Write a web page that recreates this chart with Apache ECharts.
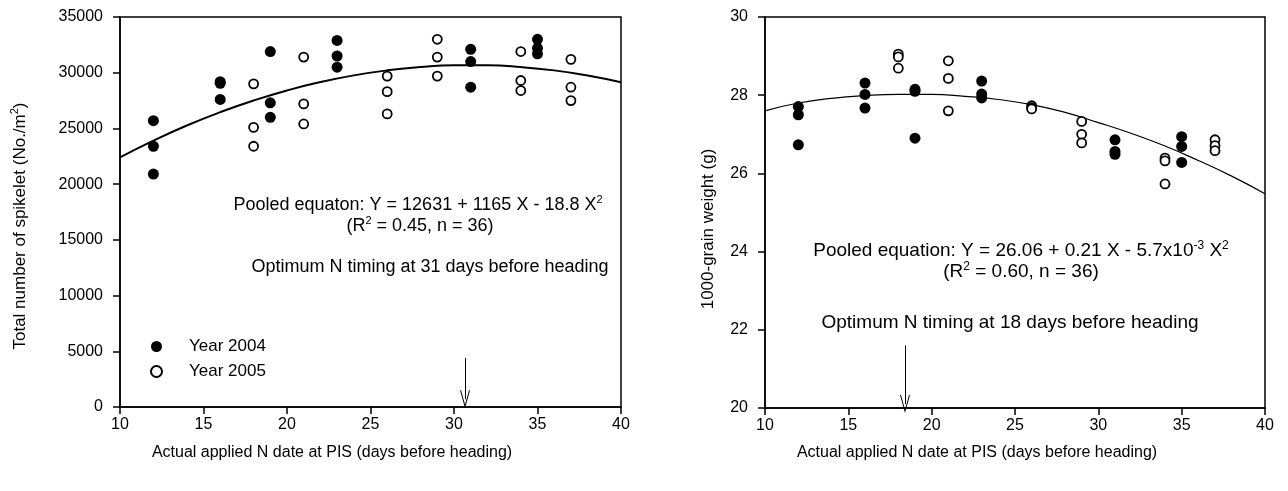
<!DOCTYPE html>
<html>
<head>
  <meta charset="utf-8">
  <title>Spikelet and grain weight vs N timing</title>
  <script src="https://cdn.jsdelivr.net/npm/echarts@6/dist/echarts.min.js"></script>
  <style>
    html, body { margin: 0; padding: 0; background: #fff; }
    #chart { width: 1288px; height: 491px; }
  </style>
</head>
<body>
<div id="chart"></div>
<script>
  // days before heading at which N was applied
  const days2004 = [12, 16, 19, 23, 31, 35];
  const days2005 = [18, 21, 26, 29, 34, 37];

  // total spikelet number (No./m2), three replicates per date
  const spikelet2004 = [[25700, 23400, 20900], [29200, 29050, 27600], [31900, 27300, 26000],
    [32900, 31500, 30500], [32100, 31000, 28700], [33000, 32200, 31700]];
  const spikelet2005 = [[29000, 25100, 23400], [31400, 27200, 25400], [29700, 28300, 26300],
    [33000, 31400, 29700], [31900, 29300, 28400], [31200, 28700, 27500]];

  // 1000-grain weight (g)
  const weight2004 = [[27.71, 27.50, 26.73], [28.31, 28.02, 27.67], [28.15, 28.10, 26.90],
    [28.36, 28.03, 27.93], [26.86, 26.56, 26.49], [26.94, 26.69, 26.28]];
  const weight2005 = [[29.05, 28.98, 28.69], [28.88, 28.43, 27.60], [27.73, 27.68, 27.65],
    [27.33, 27.00, 26.78], [26.39, 26.32, 25.73], [26.86, 26.71, 26.58]];

  // pooled regression curves
  const fitDays = [10, 12, 14, 16, 18, 20, 22, 24, 26, 28, 30, 32, 34, 36, 38, 40];
  const spikeletFit = [22400, 23900, 25260, 26460, 27510, 28410, 29160, 29760, 30210, 30510,
    30660, 30660, 30510, 30210, 29750, 29150];
  const weightFit = [27.60, 27.80, 27.92, 27.99, 28.02, 28.02, 27.97, 27.89, 27.76, 27.56,
    27.30, 27.02, 26.70, 26.33, 25.93, 25.48];

  // optimum timing arrows: [day, from, to]
  const spikeletArrow = [30.66, 4400, 700];
  const weightArrow = [18.4, 21.6, 20.1];

  const FONT = "'Liberation Sans', Arial, sans-serif";

  function pairs(daysArr, vals) {
    const out = [];
    daysArr.forEach(function (d, i) {
      vals[i].forEach(function (v) { out.push([d, v]); });
    });
    return out;
  }

  function axis(extra, margin) {
    return Object.assign({
      type: 'value',
      axisLine: { onZero: false, lineStyle: { color: '#000', width: 1.5 } },
      axisTick: { inside: false, length: 7, lineStyle: { color: '#000', width: 1.5 } },
      axisLabel: { color: '#000', fontSize: 16, fontFamily: FONT, margin: margin,
        formatter: function (v) { return String(v); } },
      splitLine: { show: false }
    }, extra);
  }

  const filled = { color: '#000', opacity: 1 };
  const hollow = { color: '#fff', borderColor: '#000', borderWidth: 1.8, opacity: 1 };
  const arrowSymbol = 'path://M0,10 L5,0 L10,10 L9,10 L5,2 L1,10 Z';

  function arrowLine(a) {
    return {
      silent: true,
      symbol: ['none', arrowSymbol],
      symbolSize: [10, 18],
      label: { show: false },
      lineStyle: { color: '#000', width: 1, type: 'solid' },
      data: [[{ coord: [a[0], a[1]] }, { coord: [a[0], a[2]] }]]
    };
  }

  function txt(x, y, text, size, rot) {
    return {
      type: 'text', x: x, y: y, rotation: rot || 0,
      style: {
        text: text,
        rich: {
          sup: { fontSize: Math.round(size * 0.62), fontFamily: FONT, color: '#000',
            padding: [0, 0, Math.round(size * 0.6), 0] }
        },
        fill: '#000', font: size + 'px ' + FONT,
        textAlign: 'center', textVerticalAlign: 'middle'
      }
    };
  }

  const chart = echarts.init(document.getElementById('chart'));
  chart.setOption({
    animation: false,
    grid: [
      { left: 120, right: 667, top: 17, bottom: 84, show: true, borderColor: '#000', borderWidth: 1.5 },
      { left: 765, right: 23, top: 17, bottom: 83, show: true, borderColor: '#000', borderWidth: 1.5 }
    ],
    xAxis: [
      axis({ gridIndex: 0, min: 10, max: 40, interval: 5 }, 10),
      axis({ gridIndex: 1, min: 10, max: 40, interval: 5 }, 10)
    ],
    yAxis: [
      axis({ gridIndex: 0, min: 0, max: 35000, interval: 5000 }, 17),
      axis({ gridIndex: 1, min: 20, max: 30, interval: 2 }, 17)
    ],
    legend: {
      data: ['Year 2004', 'Year 2005'],
      orient: 'vertical', left: 150, top: 338, itemGap: 8, padding: 0,
      itemWidth: 11, itemHeight: 11,
      textStyle: { color: '#000', fontSize: 17, fontFamily: FONT, padding: [0, 0, 0, 22] }
    },
    series: [
      {
        type: 'line', xAxisIndex: 0, yAxisIndex: 0, smooth: true, symbol: 'none', z: 1,
        data: fitDays.map(function (d, i) { return [d, spikeletFit[i]]; }),
        lineStyle: { color: '#000', width: 2 },
        markLine: arrowLine(spikeletArrow)
      },
      {
        name: 'Year 2004', type: 'scatter', xAxisIndex: 0, yAxisIndex: 0, z: 3,
        symbolSize: 11, itemStyle: filled, data: pairs(days2004, spikelet2004)
      },
      {
        name: 'Year 2005', type: 'scatter', xAxisIndex: 0, yAxisIndex: 0, z: 3,
        symbolSize: 9, itemStyle: hollow, data: pairs(days2005, spikelet2005)
      },
      {
        type: 'line', xAxisIndex: 1, yAxisIndex: 1, smooth: true, symbol: 'none', z: 1,
        data: fitDays.map(function (d, i) { return [d, weightFit[i]]; }),
        lineStyle: { color: '#000', width: 1.2 },
        markLine: arrowLine(weightArrow)
      },
      {
        name: 'Year 2004', type: 'scatter', xAxisIndex: 1, yAxisIndex: 1, z: 3,
        symbolSize: 11, itemStyle: filled, data: pairs(days2004, weight2004)
      },
      {
        name: 'Year 2005', type: 'scatter', xAxisIndex: 1, yAxisIndex: 1, z: 3,
        symbolSize: 9, itemStyle: hollow, data: pairs(days2005, weight2005)
      }
    ],
    graphic: [
      txt(20, 226, 'Total number of spikelet (No./m{sup|2})', 17, Math.PI / 2),
      txt(708, 229, '1000-grain weight (g)', 17, Math.PI / 2),
      txt(332, 453, 'Actual applied N date at PIS (days before heading)', 16),
      txt(977, 453, 'Actual applied N date at PIS (days before heading)', 16),
      txt(418, 205, 'Pooled equaton: Y = 12631 + 1165 X - 18.8 X{sup|2}', 18),
      txt(420, 226, '(R{sup|2} = 0.45, n = 36)', 18),
      txt(430, 267, 'Optimum N timing at 31 days before heading', 18),
      txt(1021, 251, 'Pooled equation: Y = 26.06 + 0.21 X - 5.7x10{sup|-3} X{sup|2}', 19),
      txt(1021, 272, '(R{sup|2} = 0.60, n = 36)', 19),
      txt(1010, 323, 'Optimum N timing at 18 days before heading', 19)
    ]
  });
</script>
</body>
</html>
